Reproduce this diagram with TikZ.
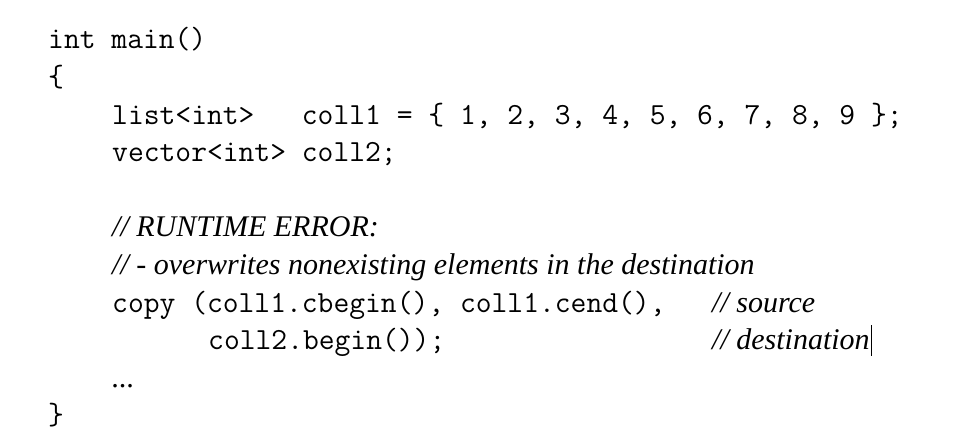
\documentclass[tikz,border=0pt]{standalone}
\usepackage{fontspec}
\newfontfamily\cmtfont{Liberation Serif}
\begin{document}
\begin{tikzpicture}[x=1pt,y=1pt,
  code/.style={anchor=base west, inner sep=0pt, font=\fontsize{30.7}{36}\selectfont\ttfamily},
  cmt/.style={anchor=base west, inner sep=0pt, font=\fontsize{30}{36}\selectfont\cmtfont\itshape},
  cursor/.style={line width=1pt}]
\useasboundingbox (0,0) rectangle (973,443);
\node[code] (l0) at (48,394) {int main()};
\node[code] (l1) at (48,356.4) {\{};
\node[code] (l2) at (112,318.8) {list<int>\ \ \ coll1 = \{ 1, 2, 3, 4, 5, 6, 7, 8, 9 \};};
\node[code] (l3) at (112,281.2) {vector<int> coll2;};
\node[cmt] (l5) at (112,206) {// RUNTIME ERROR:};
\node[cmt] (l6) at (112,168.4) {// - overwrites nonexisting elements in the destination};
\node[code] (l7) at (112,130.8) {copy (coll1.cbegin(), coll1.cend(),};
\node[cmt] (src) at (712,130.8) {// source};
\node[code] (l8) at (208,93.2) {coll2.begin());};
\node[cmt] (dst) at (712,93.2) {// destination};
\node[cmt] (l9) at (112,55.6) {...};
\node[code] (l10) at (48,18) {\}};
\draw[cursor] ([xshift=2pt,yshift=-6pt]dst.base east) -- ([xshift=2pt,yshift=25pt]dst.base east);
\end{tikzpicture}
\end{document}
